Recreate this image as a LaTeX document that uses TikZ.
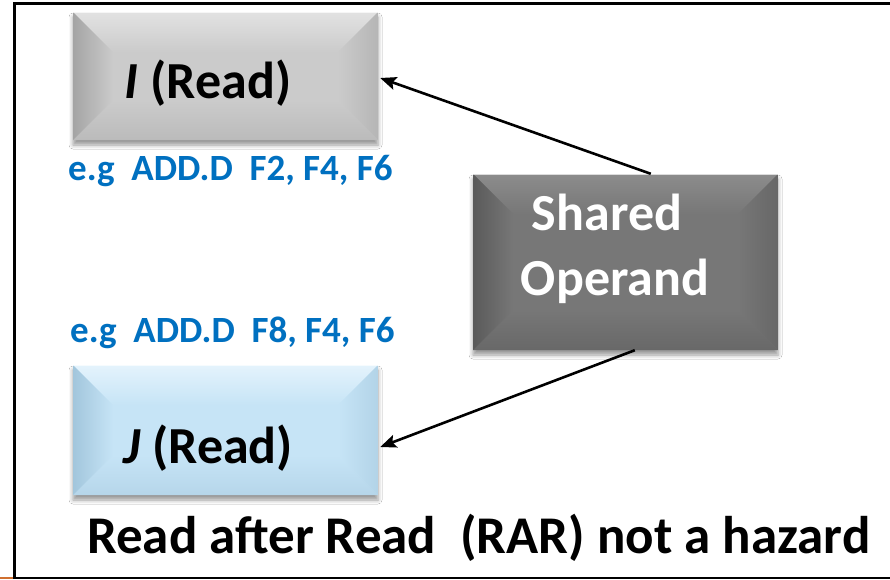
\documentclass[tikz,border=0pt]{standalone}
\usepackage{fontspec}
\setmainfont{Carlito}
\usetikzlibrary{arrows.meta,calc,shadows.blur}

\definecolor{exblue}{HTML}{0070C0}
% grey box
\definecolor{gMain}{HTML}{CBCBCB}
\definecolor{gTop}{HTML}{E2E2E2}
\definecolor{gSide}{HTML}{A4A4A4}
\definecolor{gBot}{HTML}{BBBBBB}
% dark box
\definecolor{dMain}{HTML}{777777}
\definecolor{dTop}{HTML}{8C8C8C}
\definecolor{dSide}{HTML}{5A5A5A}
\definecolor{dBot}{HTML}{686868}
% blue box
\definecolor{bMain}{HTML}{C6E4F6}
\definecolor{bTop}{HTML}{E4F3FC}
\definecolor{bSide}{HTML}{A2C6DC}
\definecolor{bBot}{HTML}{B6D6EA}

\newcommand\bevdepth{40pt}

\tikzset{
  bevelbox/.style n args={4}{% main, top, side, bottom
    fill=#1, minimum width=305pt, inner sep=0pt, draw=none,
    blur shadow={shadow xshift=0pt, shadow yshift=-5pt,
                 shadow blur radius=4pt, shadow opacity=40},
    path picture={
      \coordinate (bNW) at (path picture bounding box.north west);
      \coordinate (bNE) at (path picture bounding box.north east);
      \coordinate (bSW) at (path picture bounding box.south west);
      \coordinate (bSE) at (path picture bounding box.south east);
      \coordinate (iNW) at ($(bNW)+(\bevdepth,-\bevdepth)$);
      \coordinate (iNE) at ($(bNE)+(-\bevdepth,-\bevdepth)$);
      \coordinate (iSW) at ($(bSW)+(\bevdepth,\bevdepth)$);
      \coordinate (iSE) at ($(bSE)+(-\bevdepth,\bevdepth)$);
      \shade[top color=#2, bottom color=#1] (bNW) -- (bNE) -- (iNE) -- (iNW) -- cycle;
      \shade[top color=#1, bottom color=#4] (bSW) -- (bSE) -- (iSE) -- (iSW) -- cycle;
      \shade[left color=#3, right color=#1] (bNW) -- (iNW) -- (iSW) -- (bSW) -- cycle;
      \shade[left color=#1, right color=#3!55!#1] (bNE) -- (iNE) -- (iSE) -- (bSE) -- cycle;
      \draw[white, opacity=0.7, line width=1.5pt] (bNW) -- (bNE);
    }},
  boxtext/.style={font=\fontsize{52}{62}\selectfont\bfseries, anchor=base, inner sep=0pt},
  extext/.style={font=\fontsize{37}{44}\selectfont\bfseries, text=exblue, anchor=base west, inner sep=0pt},
  link/.style={line width=2.6pt, -{Stealth[length=16pt, width=13pt, inset=3pt]}},
}

\begin{document}
\begin{tikzpicture}[x=1pt, y=-1pt]
  \useasboundingbox (0,0) rectangle (890,579);
  \fill[white] (0,0) rectangle (890,579);

  % outer frame
  \draw[line width=3pt] (14.5,3.5) -- (890,3.5);
  \draw[line width=3pt] (14.5,2) -- (14.5,578);
  \draw[line width=1.5pt] (13,578) -- (890,578);
  \draw[line width=1.5pt, color={rgb,255:red,208;green,112;blue,48}] (0,578) -- (13,578);

  % boxes
  \node[bevelbox={gMain}{gTop}{gSide}{gBot}, minimum height=128pt] (I) at (225.5,76) {};
  \node[bevelbox={bMain}{bTop}{bSide}{bBot}, minimum height=130pt] (J) at (225.5,430) {};
  \node[bevelbox={dMain}{dTop}{dSide}{dBot}, minimum height=176pt] (S) at (625.5,262) {};

  % box texts
  \node[boxtext] (Itxt) at (208,98) {\textit{I} (Read)};
  \node[boxtext] (Jtxt) at (208,463) {\textit{J} (Read)};
  \node[boxtext, text=white] (Stxt1) at (607,230) {Shared};
  \node[boxtext, text=white] (Stxt2) at (615,295) {Operand};

  % example instructions
  \node[extext] (exI) at (68,180) {e.g\ \ ADD.D\ \ F2, F4, F6};
  \node[extext] (exJ) at (70,342) {e.g\ \ ADD.D\ \ F8, F4, F6};

  % connectors
  \draw[link] ($(S.north west)+(178pt,0)$) -- ($(I.east)+(2,2)$);
  \draw[link] ($(S.south west)+(162pt,0)$) -- ($(J.east)+(2,17)$);

  % caption
  \node[font=\fontsize{53}{62}\selectfont\bfseries, anchor=base west, inner sep=0pt] (cap)
    at (87,553) {Read after Read\ \ (RAR) not a hazard};
\end{tikzpicture}
\end{document}
